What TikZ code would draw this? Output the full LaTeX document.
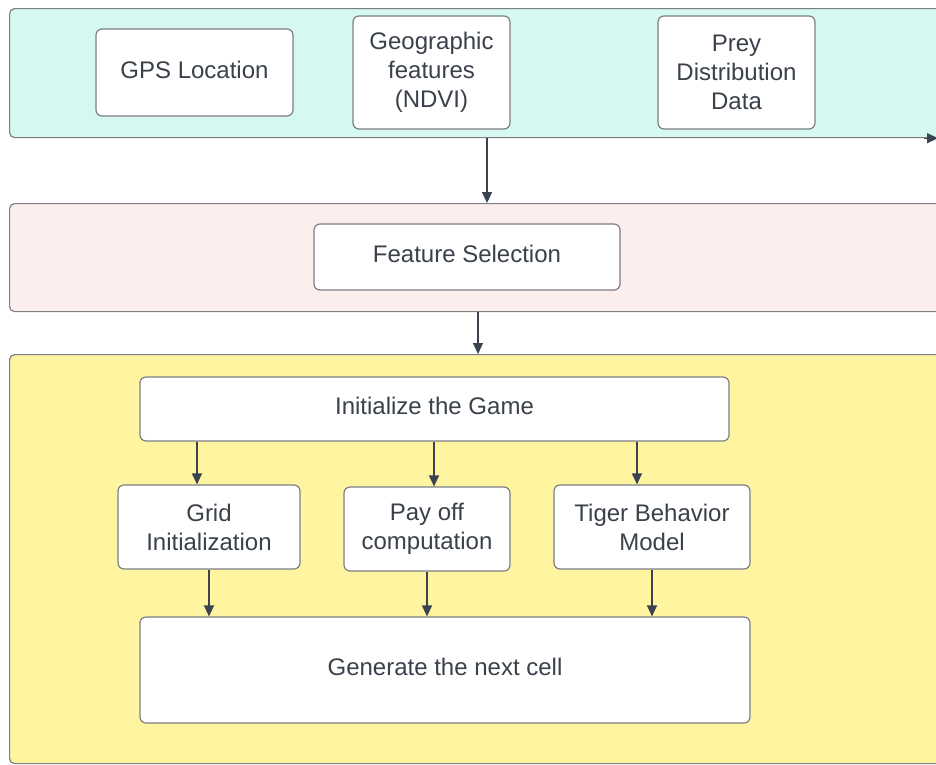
\documentclass[tikz,border=0pt]{standalone}
\usepackage{fontspec}
\setmainfont{Liberation Sans}
\usetikzlibrary{arrows.meta}
\definecolor{txt}{HTML}{3A414A}
\definecolor{edge}{HTML}{7D7F84}
\definecolor{cyanfill}{HTML}{D5F8F1}
\definecolor{pinkfill}{HTML}{FDEEEE}
\definecolor{yellowfill}{HTML}{FFF5A1}
\definecolor{arrowc}{HTML}{3B4350}
\tikzset{
  panel/.style={draw=edge, line width=1.2pt, rounded corners=5pt, anchor=north west, inner sep=0pt},
  box/.style={draw=edge, line width=1.2pt, fill=white, rounded corners=6pt, inner sep=0pt,
    align=center, text=txt, font=\fontsize{24}{29}\selectfont},
  oneline/.style={text height=17pt, text depth=6pt},
  arr/.style={draw=arrowc, line width=1.2pt, -{Triangle[length=11pt,width=10pt]}}
}
\begin{document}
\begin{tikzpicture}[x=1pt,y=-1pt]
\useasboundingbox (0,0) rectangle (936,764);
\clip (0,0) rectangle (936,764);
% panels
\node[panel, fill=cyanfill, minimum width=960pt, minimum height=129pt] (top) at (9,8) {};
\node[panel, fill=pinkfill, minimum width=960pt, minimum height=108pt] (mid) at (9,203) {};
\node[panel, fill=yellowfill, minimum width=960pt, minimum height=409pt] (bot) at (9,354) {};
% top boxes
\node[box, oneline, minimum width=197pt, minimum height=87pt] (gps) at (194.5,72.5) {GPS Location};
\node[box, minimum width=157pt, minimum height=113pt] (geo) at (431.5,72.5) {Geographic\\features\\(NDVI)};
\node[box, minimum width=157pt, minimum height=113pt] (prey) at (736.5,72.5) {Prey\\Distribution\\Data};
% middle
\node[box, oneline, minimum width=306pt, minimum height=66pt] (fs) at (467,257) {Feature Selection};
% bottom
\node[box, oneline, minimum width=589pt, minimum height=64pt] (init) at (434.5,409) {Initialize the Game};
\node[box, minimum width=182pt, minimum height=84pt] (grid) at (209,527) {Grid\\Initialization};
\node[box, minimum width=166pt, minimum height=84pt] (pay) at (427,529) {Pay off\\computation};
\node[box, minimum width=196pt, minimum height=84pt] (tiger) at (652,527) {Tiger Behavior\\Model};
\node[box, oneline, minimum width=610pt, minimum height=106pt] (gen) at (445,670) {Generate the next cell};
% coordinates for connector x positions
\coordinate (x1) at (487,0);
\coordinate (x2) at (478,0);
\coordinate (xa) at (197,0);
\coordinate (xb) at (434,0);
\coordinate (xc) at (637,0);
\coordinate (xr0) at (924,0);
\coordinate (xr1) at (938,0);
% connectors
\draw[arr] (top.south -| x1) -- (mid.north -| x1);
\draw[arr] (mid.south -| x2) -- (bot.north -| x2);
\draw[arr] (top.south -| xr0) -- (top.south -| xr1);
\draw[arr] (init.south -| xa) -- (grid.north -| xa);
\draw[arr] (init.south -| xb) -- (pay.north -| xb);
\draw[arr] (init.south -| xc) -- (tiger.north -| xc);
\draw[arr] (grid.south) -- (gen.north -| grid.south);
\draw[arr] (pay.south) -- (gen.north -| pay.south);
\draw[arr] (tiger.south) -- (gen.north -| tiger.south);
\end{tikzpicture}
\end{document}
